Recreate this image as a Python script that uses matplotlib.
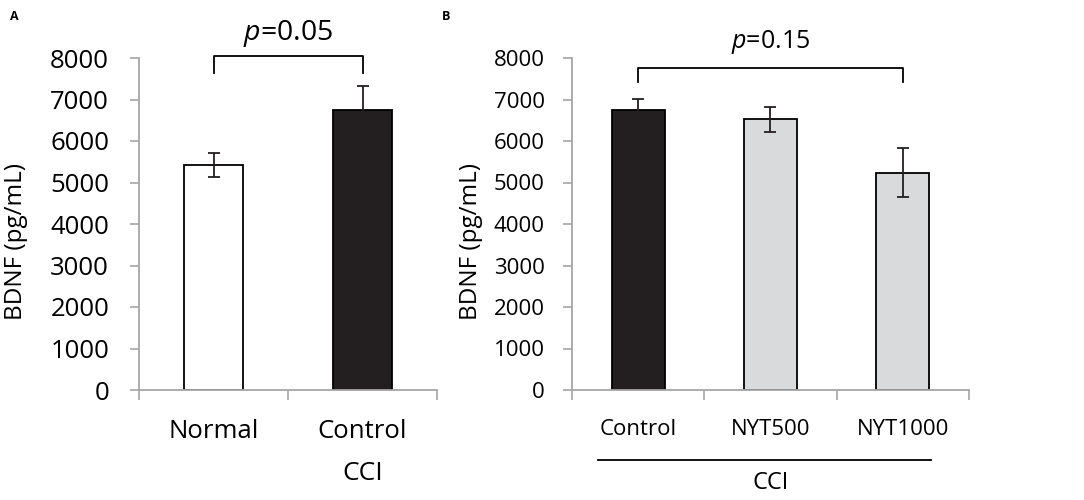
import matplotlib
matplotlib.use("Agg")
import matplotlib.pyplot as plt
import matplotlib.transforms as mtransforms

plt.rcParams['font.family'] = ['Open Sans', 'DejaVu Sans']
plt.rcParams['mathtext.fontset'] = 'custom'
plt.rcParams['mathtext.it'] = 'Open Sans:italic'
plt.rcParams['mathtext.rm'] = 'Open Sans'

# Data
a_categories = ["Normal", "Control"]
a_values = [5420, 6750]
a_errors = [290, 575]
a_colors = ["#ffffff", "#231f20"]

b_categories = ["Control", "NYT500", "NYT1000"]
b_values = [6740, 6520, 5230]
b_errors = [280, 310, 590]
b_colors = ["#231f20", "#d9dadb", "#d9dadb"]

yticks = [0, 1000, 2000, 3000, 4000, 5000, 6000, 7000, 8000]

W, H = 1084, 500
fig = plt.figure(figsize=(W / 100, H / 100), dpi=100)

def px_axes(left, right, top, bottom):
    return fig.add_axes([left / W, 1 - bottom / H, (right - left) / W, (bottom - top) / H])

axA = px_axes(139, 437, 58, 390)
axB = px_axes(572, 969, 58, 390)

spine_col = "#a6a6a6"

def style(ax, cats, vals, errs, cols, ypad, fs):
    n = len(cats)
    x = list(range(n))
    ax.bar(x, vals, width=0.4, color=cols, edgecolor="black", linewidth=1.3, zorder=2)
    ax.errorbar(x, vals, yerr=errs, fmt="none", ecolor="#231f20", elinewidth=1.3,
                capsize=4, capthick=1.3, zorder=3)
    ax.set_xlim(-0.5, n - 0.5)
    ax.set_ylim(0, 8000)
    ax.set_yticks(yticks)
    ax.set_yticklabels([str(t) for t in yticks], fontsize=fs)
    ax.set_xticks(x)
    ax.set_xticklabels(cats, fontsize=fs)
    ax.set_xticks([i - 0.5 for i in range(n + 1)], minor=True)
    ax.tick_params(axis="x", which="major", length=0, pad=21)
    ax.tick_params(axis="x", which="minor", length=7.5, width=1.2, color=spine_col, direction="out")
    ax.tick_params(axis="y", length=6.5, width=1.2, color=spine_col, direction="out", pad=ypad)
    for s in ["top", "right"]:
        ax.spines[s].set_visible(False)
    for s in ["left", "bottom"]:
        ax.spines[s].set_color(spine_col)
        ax.spines[s].set_linewidth(1.3)

style(axA, a_categories, a_values, a_errors, a_colors, 15, 18.5)
style(axB, b_categories, b_values, b_errors, b_colors, 13, 16)

# Y labels
fig.text(16 / W, 1 - 241 / H, "BDNF (pg/mL)", rotation=90, fontsize=17.5,
         ha="center", va="center")
fig.text(471 / W, 1 - 242 / H, "BDNF (pg/mL)", rotation=90, fontsize=17.5,
         ha="center", va="center")

# Brackets
axA.plot([0, 0, 1, 1], [7650, 8050, 8050, 7650], color="black", lw=1.3, clip_on=False)
axA.text(0.5, 8600, "$p$=0.05", ha="center", va="center", fontsize=20.5)
axB.plot([0, 0, 2, 2], [7420, 7760, 7760, 7420], color="black", lw=1.3, clip_on=False)
axB.text(1.0, 8390, "$p$=0.15", ha="center", va="center", fontsize=18)

# CCI group labels
trA = mtransforms.blended_transform_factory(axA.transData, axA.transAxes)
axA.text(1, -0.25, "CCI", transform=trA, ha="center", va="center", fontsize=19)
trB = mtransforms.blended_transform_factory(axB.transData, axB.transAxes)
axB.plot([-0.3, 2.21], [-0.211, -0.211], transform=trB, color="black", lw=1.3, clip_on=False)
axB.text(1, -0.28, "CCI", transform=trB, ha="center", va="center", fontsize=17)

# Panel letters
fig.text(14 / W, 1 - 16 / H, "A", fontsize=9, fontweight="bold", ha="center", va="center")
fig.text(446 / W, 1 - 16 / H, "B", fontsize=9, fontweight="bold", ha="center", va="center")

fig.savefig("out.png", dpi=100)
